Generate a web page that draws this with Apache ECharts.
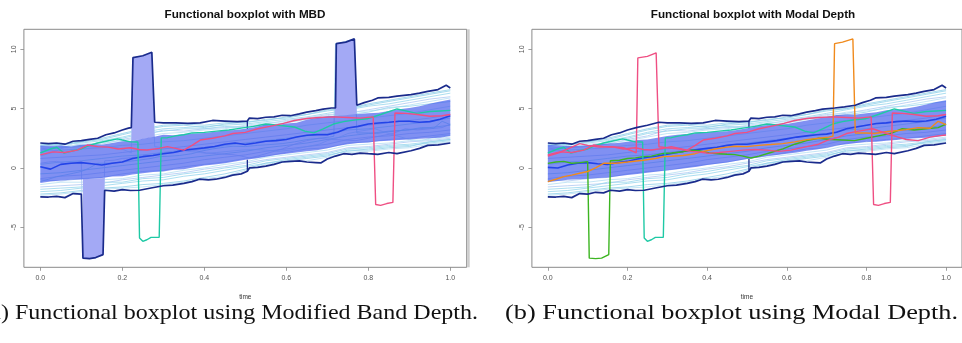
<!DOCTYPE html>
<html><head><meta charset="utf-8">
<script src="https://cdn.jsdelivr.net/npm/echarts@6/dist/echarts.min.js"></script>
<style>html,body{margin:0;padding:0;background:#fff}#c{width:962px;height:343px}</style>
</head><body><div id="c"></div>
<script>
// ---------- text ----------
const titles = ['Functional boxplot with MBD', 'Functional boxplot with Modal Depth'];
const captions = ['(a) Functional boxplot using Modified Band Depth.', '(b) Functional boxplot using Modal Depth.'];
const xTicks = [0, 0.2, 0.4, 0.6, 0.8, 1.0];
const yTicks = [-5, 0, 5, 10];
const xName = 'time';

// ---------- sampling grids ----------
const tFine = [0,0.025,0.05,0.075,0.1,0.125,0.15,0.175,0.2,0.225,0.25,0.275,0.3,0.325,0.35,0.375,0.4,0.425,0.45,0.475,0.5,0.525,0.55,0.575,0.6,0.625,0.65,0.675,0.7,0.725,0.75,0.775,0.8,0.825,0.85,0.875,0.9,0.925,0.95,0.975,1];
const tCoarse = [0,0.05,0.1,0.15,0.2,0.25,0.3,0.35,0.4,0.45,0.5,0.55,0.6,0.65,0.7,0.75,0.8,0.85,0.9,0.95,1];

// ---------- 50% central regions ----------
const bandUpperMBD = [1.9,1.85,1.9,1.8,1.95,2.0,1.95,2.1,2.25,2.3,2.45,2.6,2.8,2.75,2.85,2.9,2.95,3.05,3.15,3.2,3.3,3.45,3.65,3.6,3.75,3.8,4.05,4.2,4.35,4.4,4.45,4.55,4.6,4.65,4.8,4.95,5.05,5.2,5.4,5.6,5.76];
const bandLowerMBD = [-1.26,-1.15,-1.05,-1.0,-0.98,-0.9,-0.85,-0.72,-0.7,-0.55,-0.45,-0.35,-0.3,-0.15,-0.1,0.05,0.2,0.28,0.4,0.55,0.7,0.8,0.95,1.1,1.2,1.3,1.4,1.5,1.65,1.85,2.0,2.1,2.15,2.25,2.3,2.35,2.4,2.45,2.5,2.55,2.7];
const bandUpperModal = [1.95,1.9,1.85,1.85,1.9,2.0,2.05,2.1,2.2,2.35,2.4,2.55,2.7,2.8,2.85,2.95,3.0,3.05,3.1,3.2,3.35,3.5,3.6,3.65,3.7,3.85,4.0,4.15,4.3,4.45,4.5,4.5,4.6,4.7,4.85,4.9,5.0,5.15,5.35,5.55,5.7];
const bandLowerModal = [-1.2,-1.1,-1.0,-0.95,-0.9,-0.85,-0.8,-0.7,-0.6,-0.5,-0.4,-0.3,-0.2,-0.1,0.0,0.1,0.25,0.35,0.45,0.6,0.75,0.85,1.0,1.1,1.2,1.3,1.45,1.55,1.7,1.9,2.0,2.1,2.2,2.2,2.3,2.35,2.45,2.5,2.55,2.6,2.75];

// ---------- medians ----------
const medianMBD = [0.1,-0.1,0.3,0.4,0.45,0.35,0.25,0.4,0.5,0.8,0.95,1.05,1.2,1.3,1.5,1.6,1.69,1.8,2.0,2.1,1.97,2.1,2.25,2.3,2.39,2.6,2.75,2.81,2.8,3.0,3.37,3.5,3.7,3.79,3.85,3.93,3.93,3.85,3.9,4.1,4.4];
const medianModal = [0.05,0.0,0.25,0.4,0.45,0.35,0.3,0.45,0.55,0.75,0.9,1.0,1.15,1.3,1.45,1.55,1.65,1.75,1.9,2.0,2.0,2.1,2.2,2.3,2.45,2.6,2.7,2.8,2.85,3.0,3.3,3.45,3.6,3.75,3.8,3.9,3.95,3.9,3.95,4.1,4.35];

// ---------- envelopes [time, value] ----------
const upperEnvMBD = [[0,2.1],[0.02,2.05],[0.04,2.1],[0.06,2.0],[0.08,2.25],[0.1,2.3],[0.12,2.4],[0.14,2.5],[0.16,2.8],[0.18,2.95],[0.2,3.2],[0.215,3.35],[0.222,3.4],[0.226,9.3],[0.25,9.45],[0.272,9.75],[0.279,3.85],[0.3,3.8],[0.33,3.8],[0.36,3.75],[0.39,3.8],[0.42,4.0],[0.45,3.95],[0.48,3.9],[0.505,3.95],[0.51,4.2],[0.53,4.15],[0.55,4.27],[0.57,4.3],[0.59,4.44],[0.61,4.4],[0.632,4.55],[0.65,4.7],[0.672,4.83],[0.69,4.95],[0.71,5.05],[0.72,5.05],[0.722,10.47],[0.745,10.6],[0.766,10.87],[0.772,5.28],[0.79,5.5],[0.81,5.7],[0.823,5.9],[0.85,5.95],[0.87,6.05],[0.904,6.18],[0.925,6.3],[0.945,6.45],[0.97,6.6],[0.99,6.96],[1.0,6.74]];
const lowerEnvMBD = [[0,-2.44],[0.02,-2.45],[0.04,-2.39],[0.06,-2.5],[0.08,-2.16],[0.1,-2.2],[0.104,-7.6],[0.12,-7.64],[0.135,-7.55],[0.153,-7.3],[0.157,-1.88],[0.18,-1.95],[0.2,-1.83],[0.22,-1.9],[0.242,-1.88],[0.27,-1.69],[0.3,-1.5],[0.323,-1.45],[0.35,-1.3],[0.37,-1.15],[0.388,-0.95],[0.41,-1.0],[0.428,-0.95],[0.45,-0.8],[0.469,-0.6],[0.49,-0.5],[0.505,-0.28],[0.51,0.0],[0.53,0.05],[0.55,0.15],[0.57,0.3],[0.59,0.5],[0.61,0.55],[0.632,0.6],[0.65,0.5],[0.672,0.45],[0.684,0.42],[0.7,0.75],[0.72,1.0],[0.74,1.2],[0.76,1.15],[0.78,1.25],[0.8,1.2],[0.823,1.15],[0.85,1.3],[0.87,1.2],[0.904,1.45],[0.925,1.65],[0.945,1.9],[0.97,1.95],[1.0,2.1]];
const upperEnvModal = [[0,2.1],[0.02,2.05],[0.04,2.1],[0.06,2.0],[0.08,2.25],[0.1,2.3],[0.12,2.4],[0.14,2.5],[0.16,2.8],[0.18,2.95],[0.2,3.2],[0.222,3.4],[0.25,3.6],[0.279,3.85],[0.3,3.8],[0.33,3.8],[0.36,3.75],[0.39,3.8],[0.42,4.0],[0.45,3.95],[0.48,3.9],[0.505,3.95],[0.51,4.2],[0.53,4.15],[0.55,4.27],[0.57,4.3],[0.59,4.44],[0.61,4.4],[0.632,4.55],[0.65,4.7],[0.672,4.83],[0.69,4.95],[0.72,5.05],[0.745,5.15],[0.772,5.28],[0.79,5.5],[0.81,5.7],[0.823,5.9],[0.85,5.95],[0.87,6.05],[0.904,6.18],[0.925,6.3],[0.945,6.45],[0.97,6.6],[0.99,6.96],[1.0,6.74]];
const lowerEnvModal = [[0,-2.44],[0.02,-2.45],[0.04,-2.39],[0.06,-2.5],[0.08,-2.16],[0.1,-2.2],[0.12,-2.05],[0.14,-2.1],[0.157,-1.88],[0.18,-1.95],[0.2,-1.83],[0.22,-1.9],[0.242,-1.88],[0.27,-1.69],[0.3,-1.5],[0.323,-1.45],[0.35,-1.3],[0.37,-1.15],[0.388,-0.95],[0.41,-1.0],[0.428,-0.95],[0.45,-0.8],[0.469,-0.6],[0.49,-0.5],[0.505,-0.28],[0.51,0.0],[0.53,0.05],[0.55,0.15],[0.57,0.3],[0.59,0.5],[0.61,0.55],[0.632,0.6],[0.65,0.5],[0.672,0.45],[0.684,0.42],[0.7,0.75],[0.72,1.0],[0.74,1.2],[0.76,1.15],[0.78,1.25],[0.8,1.2],[0.823,1.15],[0.85,1.3],[0.87,1.2],[0.904,1.45],[0.925,1.65],[0.945,1.9],[0.97,1.95],[1.0,2.1]];
const whiskersMBD = [[[0.505,3.95],[0.505,3.3]], [[0.505,0.7],[0.505,-0.28]]];
const whiskersModal = [[[0.505,3.95],[0.505,3.35]], [[0.505,0.75],[0.505,-0.28]]];

// ---------- filled spikes of the MBD envelope ----------
const spikeFillsMBD = [
  [[0.104,-0.95],[0.104,-7.6],[0.12,-7.64],[0.135,-7.55],[0.153,-7.3],[0.157,-0.85]],
  [[0.222,2.3],[0.226,9.3],[0.25,9.45],[0.272,9.75],[0.279,2.6]],
  [[0.718,4.4],[0.722,10.47],[0.745,10.6],[0.766,10.87],[0.772,4.5]]
];

// ---------- outlying curves [time, value] ----------
const tealCurve = [[0,1.26],[0.025,1.6],[0.04,1.74],[0.058,1.25],[0.08,1.45],[0.1,1.6],[0.12,1.9],[0.14,2.1],[0.16,2.25],[0.188,2.45],[0.2,2.35],[0.22,2.2],[0.238,2.19],[0.242,-5.9],[0.25,-6.18],[0.26,-6.05],[0.27,-5.85],[0.29,-5.84],[0.295,2.53],[0.31,2.55],[0.33,2.7],[0.35,2.8],[0.37,2.95],[0.4,3.0],[0.43,3.1],[0.46,3.2],[0.49,3.35],[0.52,3.5],[0.55,3.7],[0.58,3.6],[0.62,3.45],[0.645,3.1],[0.667,2.95],[0.69,3.3],[0.715,3.7],[0.74,3.9],[0.77,4.05],[0.797,4.14],[0.83,4.5],[0.87,4.97],[0.9,4.75],[0.918,4.6],[0.95,4.75],[0.975,4.8],[1.0,4.85]];
const pinkCurveB = [[0,1.1],[0.03,1.35],[0.06,1.3],[0.09,1.5],[0.115,1.93],[0.14,1.8],[0.165,1.75],[0.19,1.6],[0.22,1.7],[0.24,1.55],[0.26,1.51],[0.29,1.65],[0.31,1.8],[0.33,1.65],[0.35,1.5],[0.37,1.9],[0.39,2.35],[0.42,2.5],[0.45,2.7],[0.47,2.9],[0.5,3.0],[0.53,3.3],[0.56,3.5],[0.593,3.75],[0.62,4.0],[0.65,4.16],[0.68,4.25],[0.715,4.3],[0.75,4.25],[0.78,4.2],[0.812,4.3],[0.818,-3.08],[0.83,-3.15],[0.845,-3.0],[0.86,-2.9],[0.865,4.63],[0.89,4.6],[0.92,4.5],[0.95,4.35],[0.98,4.4],[1.0,4.5]];
const pinkCurveA = [[0,1.0],[0.03,1.3],[0.05,1.6],[0.08,2.05],[0.1,1.9],[0.13,1.75],[0.16,1.8],[0.19,1.7],[0.21,1.45],[0.222,1.26],[0.226,9.27],[0.25,9.4],[0.272,9.7],[0.279,1.79],[0.3,1.7],[0.33,1.6],[0.36,1.4],[0.39,1.3],[0.405,1.23],[0.43,1.3],[0.46,1.4],[0.49,1.5],[0.52,1.55],[0.55,1.5],[0.58,1.4],[0.61,1.5],[0.65,1.8],[0.68,2.0],[0.7,2.3],[0.73,2.6],[0.75,2.9],[0.78,3.1],[0.816,3.3],[0.85,2.9],[0.88,2.6],[0.9,2.4],[0.93,2.3],[0.96,2.6],[0.98,2.7],[1.0,2.77]];
const greenCurve = [[0,0.39],[0.02,0.5],[0.04,0.55],[0.06,0.4],[0.08,0.45],[0.1,0.53],[0.104,-7.6],[0.12,-7.64],[0.135,-7.6],[0.153,-7.3],[0.157,0.6],[0.18,0.65],[0.2,0.8],[0.22,0.85],[0.24,0.95],[0.26,1.0],[0.29,1.23],[0.311,1.26],[0.34,1.37],[0.36,1.5],[0.38,1.45],[0.405,1.26],[0.43,1.2],[0.45,1.15],[0.47,1.12],[0.49,1.0],[0.51,0.84],[0.53,1.0],[0.56,1.3],[0.59,1.6],[0.62,2.0],[0.65,2.3],[0.68,2.5],[0.71,2.4],[0.74,2.35],[0.77,2.3],[0.8,2.5],[0.83,2.7],[0.86,2.9],[0.89,3.3],[0.92,3.2],[0.95,3.3],[0.98,3.4],[1.0,3.7]];
const orangeCurve = [[0,-1.15],[0.02,-0.95],[0.04,-0.73],[0.06,-0.6],[0.08,-0.45],[0.1,-0.3],[0.12,0.0],[0.14,0.39],[0.17,0.4],[0.2,0.5],[0.24,0.65],[0.27,0.8],[0.29,0.95],[0.311,0.98],[0.34,1.05],[0.37,1.2],[0.39,1.4],[0.42,1.6],[0.45,1.75],[0.47,1.83],[0.5,1.8],[0.53,1.9],[0.56,1.97],[0.59,2.05],[0.62,2.2],[0.65,2.39],[0.68,2.5],[0.705,2.6],[0.716,2.67],[0.72,10.47],[0.74,10.6],[0.766,10.87],[0.772,2.95],[0.8,2.95],[0.82,2.9],[0.85,3.05],[0.88,3.15],[0.9,3.23],[0.93,3.4],[0.96,3.35],[0.98,3.93],[1.0,3.65]];

// ---------- thin sample curves (values on tCoarse) ----------
const thin1 = [1.8,2.0,2.1,2.3,2.6,3.0,3.3,3.4,3.5,3.6,3.7,3.9,4.1,4.3,4.6,4.9,5.2,5.4,5.7,6.0,6.3];
const thin2 = [1.6,1.8,1.9,2.0,2.4,2.7,3.2,3.1,3.3,3.4,3.5,3.7,4.0,4.2,4.5,4.6,4.9,5.2,5.5,5.8,6.0];
const thin3 = [2.0,1.9,2.2,2.4,2.8,3.2,3.5,3.6,3.4,3.7,3.9,4.0,4.3,4.5,4.8,5.0,5.3,5.6,5.9,6.2,6.5];
const thin4 = [1.7,1.7,2.0,2.1,2.3,2.6,2.9,3.0,3.2,3.3,3.6,3.8,3.9,4.2,4.4,4.7,4.8,5.0,5.3,5.6,5.9];
const thin5 = [-2.0,-1.9,-1.7,-1.5,-1.3,-1.1,-1.0,-0.7,-0.5,-0.2,0.1,0.4,0.7,0.9,1.1,1.4,1.6,1.8,1.9,2.1,2.3];
const thin6 = [-1.6,-1.5,-1.4,-1.3,-1.0,-0.8,-0.6,-0.4,-0.1,0.1,0.4,0.7,0.9,1.1,1.3,1.7,1.8,2.0,2.2,2.3,2.5];
const thin7 = [-2.2,-2.1,-1.9,-1.7,-1.6,-1.4,-1.3,-1.1,-0.8,-0.5,-0.1,0.4,0.6,0.8,1.0,1.5,1.5,1.7,1.8,2.2,2.4];
const thin8 = [-1.4,-1.2,-1.2,-1.0,-0.9,-0.6,-0.5,-0.2,0.0,0.3,0.5,0.9,1.1,1.3,1.5,1.9,2.0,2.1,2.3,2.4,2.6];
const thin9 = [-1.8,-1.7,-1.6,-1.2,-1.2,-0.9,-0.8,-0.5,-0.3,0.0,0.2,0.6,0.8,1.0,1.2,1.6,1.7,1.9,2.0,2.2,2.4];
const thin10 = [0.8,0.9,1.0,1.1,1.3,1.5,1.6,1.8,2.0,2.2,2.4,2.6,2.8,3.0,3.2,3.4,3.6,3.8,4.0,4.2,4.5];
const thin11 = [-0.5,-0.4,-0.2,0.0,0.2,0.4,0.6,0.8,1.0,1.2,1.4,1.7,1.9,2.1,2.4,2.7,2.9,3.1,3.2,3.4,3.6];
const thin12 = [1.4,1.5,1.6,1.7,1.9,2.0,2.2,2.3,2.5,2.7,2.9,3.1,3.3,3.6,3.8,4.0,4.2,4.4,4.6,4.9,5.2];
const thin13 = [1.5,1.7,1.8,2.2,2.5,2.9,3.1,3.3,3.3,3.5,3.4,3.6,3.8,4.1,4.3,4.5,4.7,5.1,5.2,5.4,5.6];
const thin14 = [-1.0,-1.1,-0.9,-0.8,-0.5,-0.3,-0.2,0.1,0.3,0.5,0.8,1.0,1.3,1.6,1.7,2.1,2.2,2.4,2.5,2.7,2.9];
const thin15 = [1.9,2.0,2.2,2.5,2.9,3.3,3.6,3.7,3.6,3.8,3.8,4.1,4.2,4.5,4.9,5.0,5.4,5.7,6.0,6.3,6.6];
const thin16 = [-2.3,-2.2,-2.0,-1.8,-1.7,-1.6,-1.4,-1.2,-0.9,-0.7,-0.2,0.3,0.5,0.6,0.9,1.3,1.4,1.6,1.7,2.0,2.2];
const thin17 = [0.3,0.5,0.6,0.8,1.0,1.1,1.3,1.5,1.6,1.9,2.1,2.3,2.5,2.7,2.9,3.2,3.3,3.5,3.7,3.9,4.2];
const thin18 = [-0.9,-0.7,-0.6,-0.4,-0.2,0.0,0.2,0.4,0.7,0.9,1.1,1.4,1.6,1.8,2.0,2.4,2.6,2.7,2.9,3.0,3.2];

// ---------- colours ----------
const C = {
  env: '#1a2b8c', median: '#2243e8', band: 'rgba(62,86,236,0.66)', spike: '#a3a9f5',
  teal: '#1ec9a5', pink: '#ef4f83', green: '#3cb521', orange: '#f08a1c',
  thin: ['#97d5ec', '#aec8f2', '#8fcfe8', '#b5def2']
};

function zip(ts, vs) { return ts.map((t, i) => [t, vs[i]]); }
function lineS(g, data, color, width, z) {
  return { type: 'line', xAxisIndex: g, yAxisIndex: g, data: data, symbol: 'none', showSymbol: false,
    lineStyle: { color: color, width: width }, z: z, silent: true, animation: false, clip: true };
}
function polyS(g, pts, color, z) {
  return { type: 'custom', xAxisIndex: g, yAxisIndex: g, data: [[0.5, 0]], z: z, silent: true, animation: false, clip: true,
    renderItem: function (params, api) {
      return { type: 'polygon', shape: { points: pts.map(p => api.coord(p)) }, style: { fill: color } };
    } };
}
function bandPts(up, lo) { return zip(tFine, up).concat(zip(tFine, lo).reverse()); }

const thinList = [thin1, thin2, thin3, thin4, thin5, thin6, thin7, thin8, thin9, thin10, thin11, thin12, thin13, thin14, thin15, thin16, thin17, thin18];

function panel(g, cfg) {
  const s = [];
  thinList.forEach((v, i) => s.push(lineS(g, zip(tCoarse, v), C.thin[i % 4], 0.8, 1)));
  cfg.thinCurves.forEach((d, i) => s.push(lineS(g, d, C.thin[(i + 1) % 4], 0.8, 1)));
  cfg.fills.forEach(p => s.push(polyS(g, p, C.spike, 2)));
  cfg.whiskers.forEach(w => s.push(lineS(g, w, C.env, 1.3, 2)));
  s.push(polyS(g, bandPts(cfg.bandU, cfg.bandL), C.band, 3));
  s.push(lineS(g, zip(tFine, cfg.median), C.median, 1.6, 4));
  cfg.colored.forEach(c => s.push(lineS(g, c[0], c[1], 1.4, 5)));
  s.push(lineS(g, cfg.envU, C.env, 1.7, 6));
  s.push(lineS(g, cfg.envL, C.env, 1.7, 6));
  return s;
}

const series = [].concat(
  panel(0, { bandU: bandUpperMBD, bandL: bandLowerMBD, median: medianMBD, envU: upperEnvMBD, envL: lowerEnvMBD,
    whiskers: whiskersMBD, fills: spikeFillsMBD, thinCurves: [greenCurve, orangeCurve, pinkCurveA],
    colored: [[tealCurve, C.teal], [pinkCurveB, C.pink]] }),
  panel(1, { bandU: bandUpperModal, bandL: bandLowerModal, median: medianModal, envU: upperEnvModal, envL: lowerEnvModal,
    whiskers: whiskersModal, fills: [], thinCurves: [],
    colored: [[greenCurve, C.green], [tealCurve, C.teal], [orangeCurve, C.orange], [pinkCurveA, C.pink], [pinkCurveB, C.pink]] })
);

const gridLefts = [23.9, 531.9];
const grid = gridLefts.map(l => ({ left: l, top: 29.3, width: 442.8, height: 238, show: true, borderColor: '#8a8a8a', borderWidth: 1, backgroundColor: 'transparent' }));
const axisFont = 'Liberation Sans';
const xAxis = gridLefts.map((l, i) => ({
  gridIndex: i, type: 'value', min: -0.04, max: 1.04, position: 'bottom',
  name: xName, nameLocation: 'middle', nameGap: 26, nameTextStyle: { fontSize: 6.5, color: '#333', fontFamily: axisFont },
  axisLine: { show: false, onZero: false },
  axisTick: { show: true, length: 3.5, lineStyle: { color: '#888', width: 0.8 }, customValues: xTicks },
  axisLabel: { customValues: xTicks, formatter: v => v.toFixed(1), fontSize: 7, color: '#555', margin: 7, fontFamily: axisFont },
  splitLine: { show: false }
}));
const yAxis = gridLefts.map((l, i) => ({
  gridIndex: i, type: 'value', min: -8.37, max: 11.68, position: 'left',
  axisLine: { show: false, onZero: false },
  axisTick: { show: true, length: 3.5, lineStyle: { color: '#888', width: 0.8 }, customValues: yTicks },
  axisLabel: { customValues: yTicks, rotate: 90, fontSize: 7, color: '#555', margin: 6, fontFamily: axisFont },
  splitLine: { show: false }
}));

function measure(text, font) { const c = document.createElement('canvas').getContext('2d'); c.font = font; return c.measureText(text).width; }
const capFont = '21px "Liberation Serif"';
const capScaleB = 453 / measure(captions[1], capFont);
const capScaleA = 477 / measure(captions[0].slice(2), capFont);
const titleFont = 'bold 11.7px "Liberation Sans"';

const graphic = [
  { type: 'text', x: 245, y: 15, style: { text: titles[0], font: titleFont, fill: '#111', align: 'center', verticalAlign: 'middle' } },
  { type: 'text', x: 753, y: 15, style: { text: titles[1], font: titleFont, fill: '#111', align: 'center', verticalAlign: 'middle' } },
  { type: 'text', x: 478, y: 313, scaleX: capScaleA, style: { text: captions[0], font: capFont, fill: '#111', align: 'right', verticalAlign: 'middle' } },
  { type: 'text', x: 505, y: 313, scaleX: capScaleB, style: { text: captions[1], font: capFont, fill: '#111', align: 'left', verticalAlign: 'middle' } },
  { type: 'rect', shape: { x: 467.2, y: 29.3, width: 2.5, height: 238 }, style: { fill: '#cccccc' } }
];

const chart = echarts.init(document.getElementById('c'), null, { renderer: 'canvas' });
chart.setOption({ animation: false, backgroundColor: '#fff', grid: grid, xAxis: xAxis, yAxis: yAxis, series: series, graphic: graphic });
</script></body></html>
